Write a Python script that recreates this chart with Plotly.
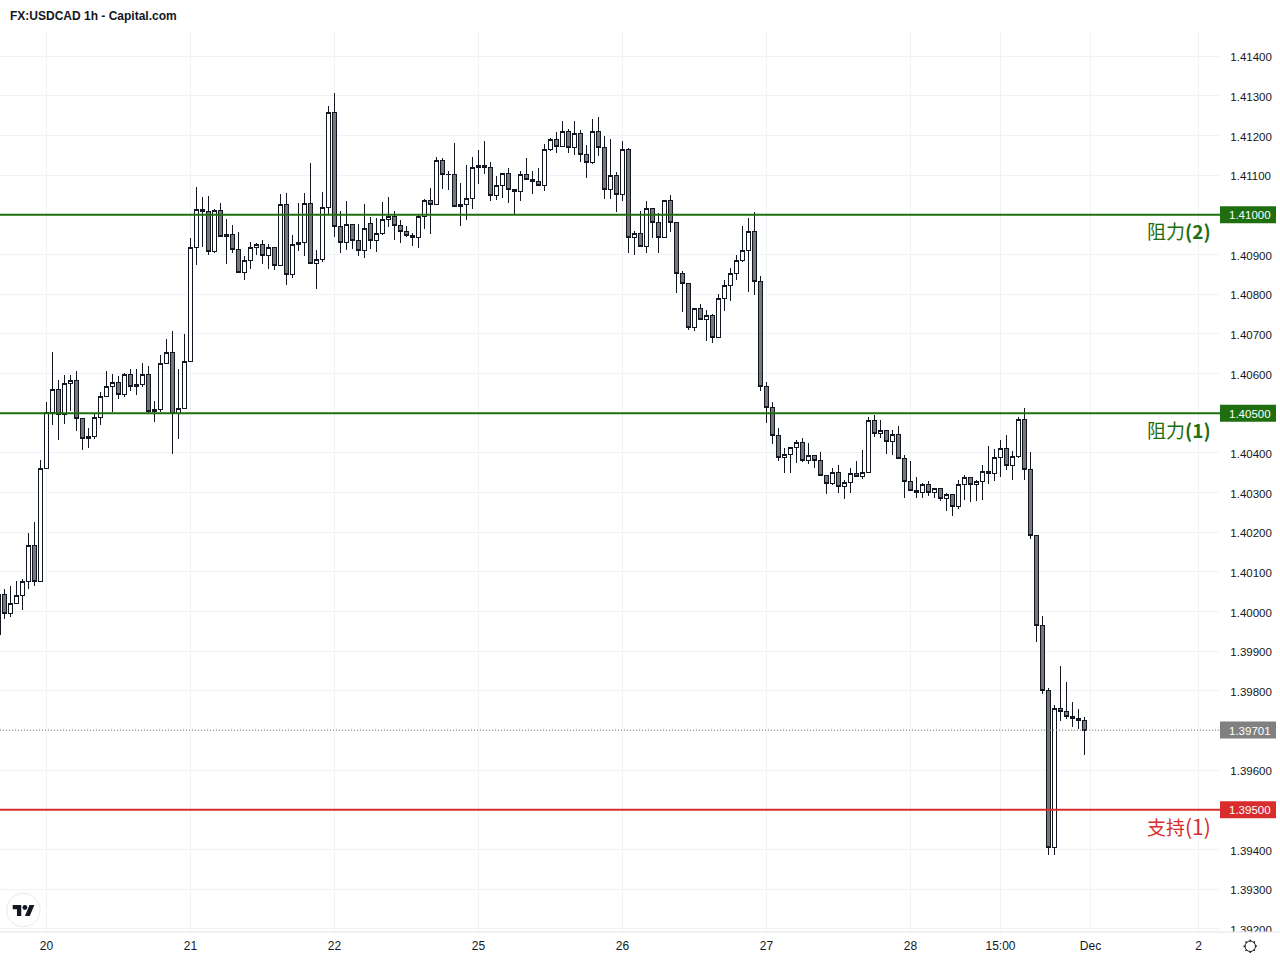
import plotly.graph_objects as go

BAR_INDEX = list(range(-8, 174))

OPEN = [
1.39941,1.40044,1.39996,1.40021,1.40041,1.40076,1.40167,1.40076,1.40361,1.40501,
1.40560,1.40497,1.40576,1.40583,1.40487,1.40437,1.40442,1.40490,1.40543,1.40568,
1.40578,1.40548,1.40598,1.40568,1.40573,1.40598,1.40505,1.40510,1.40626,1.40654,
1.40500,1.40513,1.40631,1.40918,1.41014,1.41009,1.40908,1.41012,1.40946,1.40951,
1.40913,1.40855,1.40886,1.40918,1.40926,1.40898,1.40918,1.40873,1.41027,1.40850,
1.40926,1.40931,1.41029,1.40878,1.40888,1.41019,1.41259,1.40971,1.40930,1.40976,
1.40936,1.40911,1.40979,1.40936,1.40954,1.40989,1.40997,1.40972,1.40959,1.40949,
1.40944,1.40997,1.41037,1.41025,1.41138,1.41103,1.41103,1.41025,1.41025,1.41040,
1.41120,1.41125,1.41120,1.41050,1.41073,1.41105,1.41065,1.41060,1.41103,1.41090,
1.41083,1.41075,1.41166,1.41189,1.41173,1.41211,1.41171,1.41206,1.41153,1.41131,
1.41211,1.41171,1.41065,1.41098,1.41052,1.41166,1.40944,1.40954,1.40921,1.41015,
1.40982,1.40944,1.41035,1.40982,1.40851,1.40828,1.40717,1.40765,1.40737,1.40747,
1.40692,1.40788,1.40823,1.40851,1.40886,1.40911,1.40959,1.40832,1.40568,1.40515,
1.40444,1.40389,1.40396,1.40414,1.40427,1.40381,1.40393,1.40381,1.40343,1.40323,
1.40351,1.40316,1.40326,1.40348,1.40341,1.40351,1.40482,1.40449,1.40457,1.40429,
1.40447,1.40386,1.40329,1.40306,1.40299,1.40319,1.40299,1.40311,1.40286,1.40294,
1.40266,1.40319,1.40337,1.40321,1.40329,1.40354,1.40347,1.40389,1.40410,1.40367,
1.40392,1.40485,1.40357,1.40192,1.39965,1.39802,1.39406,1.39755,1.39749,1.39736,
1.39731,1.39726]

HIGH = [
1.40044,1.40057,1.40065,1.40076,1.40081,1.40197,1.40225,1.40381,1.40528,1.40654,
1.40583,1.40596,1.40596,1.40606,1.40487,1.40462,1.40500,1.40553,1.40606,1.40598,
1.40593,1.40601,1.40611,1.40611,1.40626,1.40619,1.40531,1.40647,1.40687,1.40707,
1.40611,1.40700,1.40941,1.41070,1.41044,1.41047,1.41014,1.41029,1.40989,1.40974,
1.40956,1.40896,1.40931,1.40928,1.40936,1.40926,1.40918,1.41052,1.41055,1.40949,
1.41029,1.41055,1.41130,1.40911,1.41057,1.41275,1.41307,1.41009,1.41034,1.40976,
1.40976,1.41027,1.40994,1.40991,1.41032,1.41045,1.41010,1.40987,1.40972,1.40954,
1.41002,1.41040,1.41068,1.41146,1.41143,1.41110,1.41181,1.41080,1.41125,1.41146,
1.41163,1.41186,1.41133,1.41098,1.41105,1.41118,1.41065,1.41110,1.41143,1.41110,
1.41118,1.41178,1.41194,1.41209,1.41237,1.41216,1.41237,1.41214,1.41176,1.41242,
1.41247,1.41199,1.41191,1.41108,1.41186,1.41168,1.40959,1.41010,1.41035,1.41015,
1.41005,1.41035,1.41050,1.40982,1.40858,1.40828,1.40765,1.40775,1.40760,1.40750,
1.40800,1.40836,1.40866,1.40899,1.40972,1.40992,1.41007,1.40847,1.40578,1.40527,
1.40462,1.40411,1.40414,1.40432,1.40437,1.40424,1.40393,1.40401,1.40343,1.40361,
1.40369,1.40331,1.40361,1.40379,1.40406,1.40490,1.40495,1.40484,1.40457,1.40458,
1.40468,1.40394,1.40379,1.40339,1.40324,1.40329,1.40311,1.40311,1.40298,1.40296,
1.40332,1.40344,1.40339,1.40332,1.40369,1.40417,1.40410,1.40432,1.40445,1.40405,
1.40490,1.40513,1.40402,1.40192,1.39988,1.39807,1.39764,1.39862,1.39822,1.39771,
1.39754,1.39734]

LOW = [
1.39941,1.39982,1.39987,1.40021,1.40004,1.40056,1.40065,1.40076,1.40361,1.40471,
1.40433,1.40473,1.40506,1.40454,1.40406,1.40413,1.40434,1.40471,1.40543,1.40504,
1.40535,1.40542,1.40555,1.40547,1.40565,1.40500,1.40477,1.40502,1.40623,1.40396,
1.40434,1.40513,1.40631,1.40874,1.40919,1.40899,1.40903,1.40946,1.40876,1.40903,
1.40855,1.40836,1.40864,1.40899,1.40876,1.40864,1.40861,1.40873,1.40822,1.40841,
1.40908,1.40897,1.40876,1.40813,1.40881,1.41002,1.40945,1.40904,1.40911,1.40913,
1.40897,1.40891,1.40913,1.40906,1.40949,1.40969,1.40936,1.40928,1.40944,1.40921,
1.40916,1.40964,1.40952,1.41025,1.41065,1.41062,1.41022,1.40973,1.40987,1.41016,
1.41079,1.41103,1.41035,1.41037,1.41042,1.41030,1.41002,1.41035,1.41088,1.41052,
1.41075,1.41060,1.41161,1.41156,1.41173,1.41157,1.41152,1.41133,1.41094,1.41128,
1.41149,1.41039,1.41039,1.41006,1.41034,1.40905,1.40898,1.40918,1.40903,1.40941,
1.40903,1.40944,1.40958,1.40802,1.40754,1.40709,1.40706,1.40734,1.40681,1.40676,
1.40692,1.40757,1.40782,1.40837,1.40880,1.40805,1.40797,1.40557,1.40474,1.40423,
1.40380,1.40348,1.40348,1.40375,1.40378,1.40373,1.40363,1.40343,1.40297,1.40318,
1.40298,1.40284,1.40300,1.40338,1.40333,1.40351,1.40441,1.40437,1.40398,1.40395,
1.40384,1.40285,1.40306,1.40285,1.40285,1.40290,1.40285,1.40278,1.40253,1.40242,
1.40258,1.40282,1.40275,1.40278,1.40280,1.40321,1.40328,1.40338,1.40356,1.40331,
1.40387,1.40331,1.40184,1.39922,1.39793,1.39385,1.39385,1.39723,1.39729,1.39710,
1.39704,1.39639]

CLOSE = [
1.40044,1.39995,1.40021,1.40041,1.40076,1.40167,1.40076,1.40361,1.40501,1.40560,
1.40497,1.40576,1.40583,1.40487,1.40437,1.40442,1.40490,1.40543,1.40568,1.40578,
1.40548,1.40598,1.40568,1.40573,1.40598,1.40505,1.40510,1.40626,1.40654,1.40500,
1.40513,1.40631,1.40918,1.41014,1.41009,1.40908,1.41012,1.40946,1.40951,1.40913,
1.40855,1.40886,1.40918,1.40926,1.40898,1.40918,1.40873,1.41027,1.40850,1.40926,
1.40931,1.41029,1.40878,1.40888,1.41019,1.41259,1.40971,1.40930,1.40976,1.40936,
1.40911,1.40966,1.40936,1.40954,1.40989,1.40997,1.40972,1.40959,1.40949,1.40944,
1.40997,1.41037,1.41025,1.41138,1.41103,1.41102,1.41022,1.41022,1.41040,1.41120,
1.41125,1.41120,1.41050,1.41073,1.41105,1.41065,1.41060,1.41103,1.41090,1.41083,
1.41075,1.41166,1.41189,1.41173,1.41211,1.41171,1.41206,1.41153,1.41131,1.41211,
1.41171,1.41065,1.41098,1.41052,1.41166,1.40944,1.40954,1.40921,1.41015,1.40982,
1.40944,1.41035,1.40982,1.40851,1.40828,1.40717,1.40765,1.40737,1.40747,1.40692,
1.40788,1.40823,1.40851,1.40886,1.40911,1.40959,1.40832,1.40568,1.40515,1.40444,
1.40389,1.40396,1.40414,1.40427,1.40381,1.40393,1.40381,1.40343,1.40323,1.40351,
1.40316,1.40326,1.40348,1.40341,1.40351,1.40482,1.40449,1.40457,1.40429,1.40447,
1.40386,1.40328,1.40306,1.40299,1.40319,1.40299,1.40311,1.40286,1.40294,1.40266,
1.40319,1.40337,1.40321,1.40329,1.40354,1.40347,1.40389,1.40410,1.40367,1.40392,
1.40485,1.40357,1.40192,1.39965,1.39802,1.39406,1.39755,1.39749,1.39735,1.39730,
1.39726,1.39701]

TIME_TICKS = [0, 24, 48, 72, 96, 120, 144, 159, 174, 192]
TIME_LABELS = ["20", "21", "22", "25", "26", "27", "28", "15:00", "Dec", "2"]
PRICE_TICKS = [round(1.392 + i * 0.001, 3) for i in range(23)]

LEVELS = [1.41, 1.405, 1.395]
LEVEL_NAMES = ["阻力<b>(2)</b>", "阻力<b>(1)</b>", "支持<span style='font-size:21px'>(1)</span>"]
LEVEL_COLORS = ["#1f6e0f", "#1f6e0f", "#d92c2c"]
LAST_PRICE = 1.39701
TAGGED_TICKS = [1.41, 1.405, 1.397, 1.395]

INK = "#131722"
FONT = "Liberation Sans, Arial, sans-serif"
W, H = 1280, 960
L, R, T, B = 0, 1220, 32, 932


def xp(px):
    return (px - L) / (R - L)


def yp(py):
    return (B - py) / (B - T)


fig = go.Figure(go.Candlestick(
    x=BAR_INDEX, open=OPEN, high=HIGH, low=LOW, close=CLOSE,
    increasing=dict(line=dict(color=INK, width=1), fillcolor="#ffffff"),
    decreasing=dict(line=dict(color=INK, width=1), fillcolor="#787878"),
    whiskerwidth=0, hoverinfo="skip", showlegend=False,
))

shapes = []
annotations = []

shapes.append(dict(type="line", xref="paper", yref="y", x0=0, x1=1, y0=LAST_PRICE, y1=LAST_PRICE,
                   line=dict(color="#808080", width=1, dash="1px,2px"), layer="above"))
shapes.append(dict(type="rect", xref="paper", yref="y", ysizemode="pixel", yanchor=LAST_PRICE,
                   x0=1, x1=xp(1276), y0=-8.5, y1=8.5, fillcolor="#808080", line_width=0, layer="above"))
annotations.append(dict(xref="paper", yref="y", x=xp(1273), y=LAST_PRICE, xanchor="right", yanchor="middle", yshift=-0.5,
                        text=f"{LAST_PRICE:.5f}", showarrow=False, font=dict(family=FONT, size=11.5, color="#ffffff")))

for level, name, colour in zip(LEVELS, LEVEL_NAMES, LEVEL_COLORS):
    shapes.append(dict(type="line", xref="paper", yref="y", x0=0, x1=1, y0=level, y1=level,
                       line=dict(color=colour, width=2), layer="above"))
    shapes.append(dict(type="rect", xref="paper", yref="y", ysizemode="pixel", yanchor=level,
                       x0=1, x1=xp(1276), y0=-8.5, y1=8.5, fillcolor=colour, line_width=0, layer="above"))
    annotations.append(dict(xref="paper", yref="y", x=xp(1273), y=level, xanchor="right", yanchor="middle", yshift=-0.5,
                            text=f"{level:.5f}", showarrow=False, font=dict(family=FONT, size=11.5, color="#ffffff")))
    annotations.append(dict(xref="paper", yref="y", x=xp(1213), y=level, xanchor="right", yanchor="middle",
                            yshift=-16, text=name, showarrow=False,
                            font=dict(family="Noto Sans CJK SC, Noto Sans, sans-serif", size=19, color=colour)))

shapes.append(dict(type="rect", xref="paper", yref="paper", x0=1, x1=xp(W), y0=yp(B), y1=yp(H),
                   fillcolor="#ffffff", line_width=0, layer="above"))
shapes.append(dict(type="line", xref="paper", yref="paper", x0=0, x1=xp(W), y0=yp(B), y1=yp(B),
                   line=dict(color="#e0e3eb", width=1), layer="above"))

shapes.append(dict(type="circle", xref="paper", yref="paper", x0=xp(6.7), x1=xp(40), y0=yp(893.3), y1=yp(926.7),
                   fillcolor="#ffffff", line=dict(color="#e8e9ed", width=1), layer="above"))


def lp(pts):
    s = 0.61
    return "M" + " L".join(f"{xp(12.7 + s * a):.5f},{yp(905 + s * (b - 4)):.5f}" for a, b in pts) + " Z"


for poly in ([(0, 4), (14, 4), (14, 22), (7, 22), (7, 11), (0, 11)], [(20, 22), (28, 22), (35.5, 4), (27.5, 4)]):
    shapes.append(dict(type="path", xref="paper", yref="paper", path=lp(poly), fillcolor=INK, line_width=0, layer="above"))
shapes.append(dict(type="circle", xref="paper", yref="paper", x0=xp(12.7 + 0.61 * 16), x1=xp(12.7 + 0.61 * 24),
                   y0=yp(905), y1=yp(905 + 0.61 * 8), fillcolor=INK, line_width=0, layer="above"))

shapes.append(dict(type="circle", xref="paper", yref="paper", x0=xp(1245), x1=xp(1255.5), y0=yp(941), y1=yp(951.5),
                   fillcolor="rgba(0,0,0,0)", line=dict(color=INK, width=1), layer="above"))
for (a, b, c, d) in [(1250.2, 939.5, 1250.2, 941.5), (1250.2, 951, 1250.2, 953), (1243.5, 946.2, 1245.5, 946.2),
                     (1255, 946.2, 1257, 946.2), (1245.5, 941.5, 1246.8, 942.8), (1253.6, 949.6, 1254.9, 950.9),
                     (1254.9, 941.5, 1253.6, 942.8), (1246.8, 949.6, 1245.5, 950.9)]:
    shapes.append(dict(type="line", xref="paper", yref="paper", x0=xp(a), x1=xp(c), y0=yp(b), y1=yp(d),
                       line=dict(color=INK, width=1.3), layer="above"))

annotations.append(dict(xref="paper", yref="paper", x=xp(8), y=yp(15.5), xanchor="left", yanchor="middle",
                        text="<b>FX:USDCAD 1h - Capital.com</b>", showarrow=False,
                        font=dict(family=FONT, size=12, color=INK)))

GRID = "#f1f2f5"
fig.update_layout(
    width=W, height=H, autosize=False,
    margin=dict(l=L, r=W - R, t=T, b=H - B, pad=0),
    paper_bgcolor="#ffffff", plot_bgcolor="#ffffff",
    boxgap=1 / 3, boxgroupgap=0, showlegend=False,
    shapes=shapes, annotations=annotations,
    xaxis=dict(range=[-46.5 / 6, (1220 - 46.5) / 6], tickmode="array", tickvals=TIME_TICKS, ticktext=TIME_LABELS,
               rangeslider=dict(visible=False), showgrid=True, gridcolor=GRID, gridwidth=1, zeroline=False,
               ticks="outside", ticklen=3, tickcolor="rgba(0,0,0,0)", tickangle=0,
               tickfont=dict(family=FONT, size=12, color=INK), fixedrange=True),
    yaxis=dict(side="right", range=[1.39192, 1.41461], tickmode="array", tickvals=PRICE_TICKS,
               ticktext=["" if v in TAGGED_TICKS else f"{v:.5f}" for v in PRICE_TICKS],
               showgrid=True, gridcolor=GRID, gridwidth=1,
               zeroline=False, ticks="outside", ticklen=7, tickcolor="rgba(0,0,0,0)", ticklabelshift=1,
               tickfont=dict(family=FONT, size=11.5, color=INK), fixedrange=True),
)

CRISP = """
document.body.style.margin='0';document.body.style.overflow='hidden';
document.querySelectorAll('.boxes path').forEach(function(p){p.style.shapeRendering='crispEdges';});
"""
fig.write_html("out.html", config=dict(displayModeBar=False), post_script=CRISP)
